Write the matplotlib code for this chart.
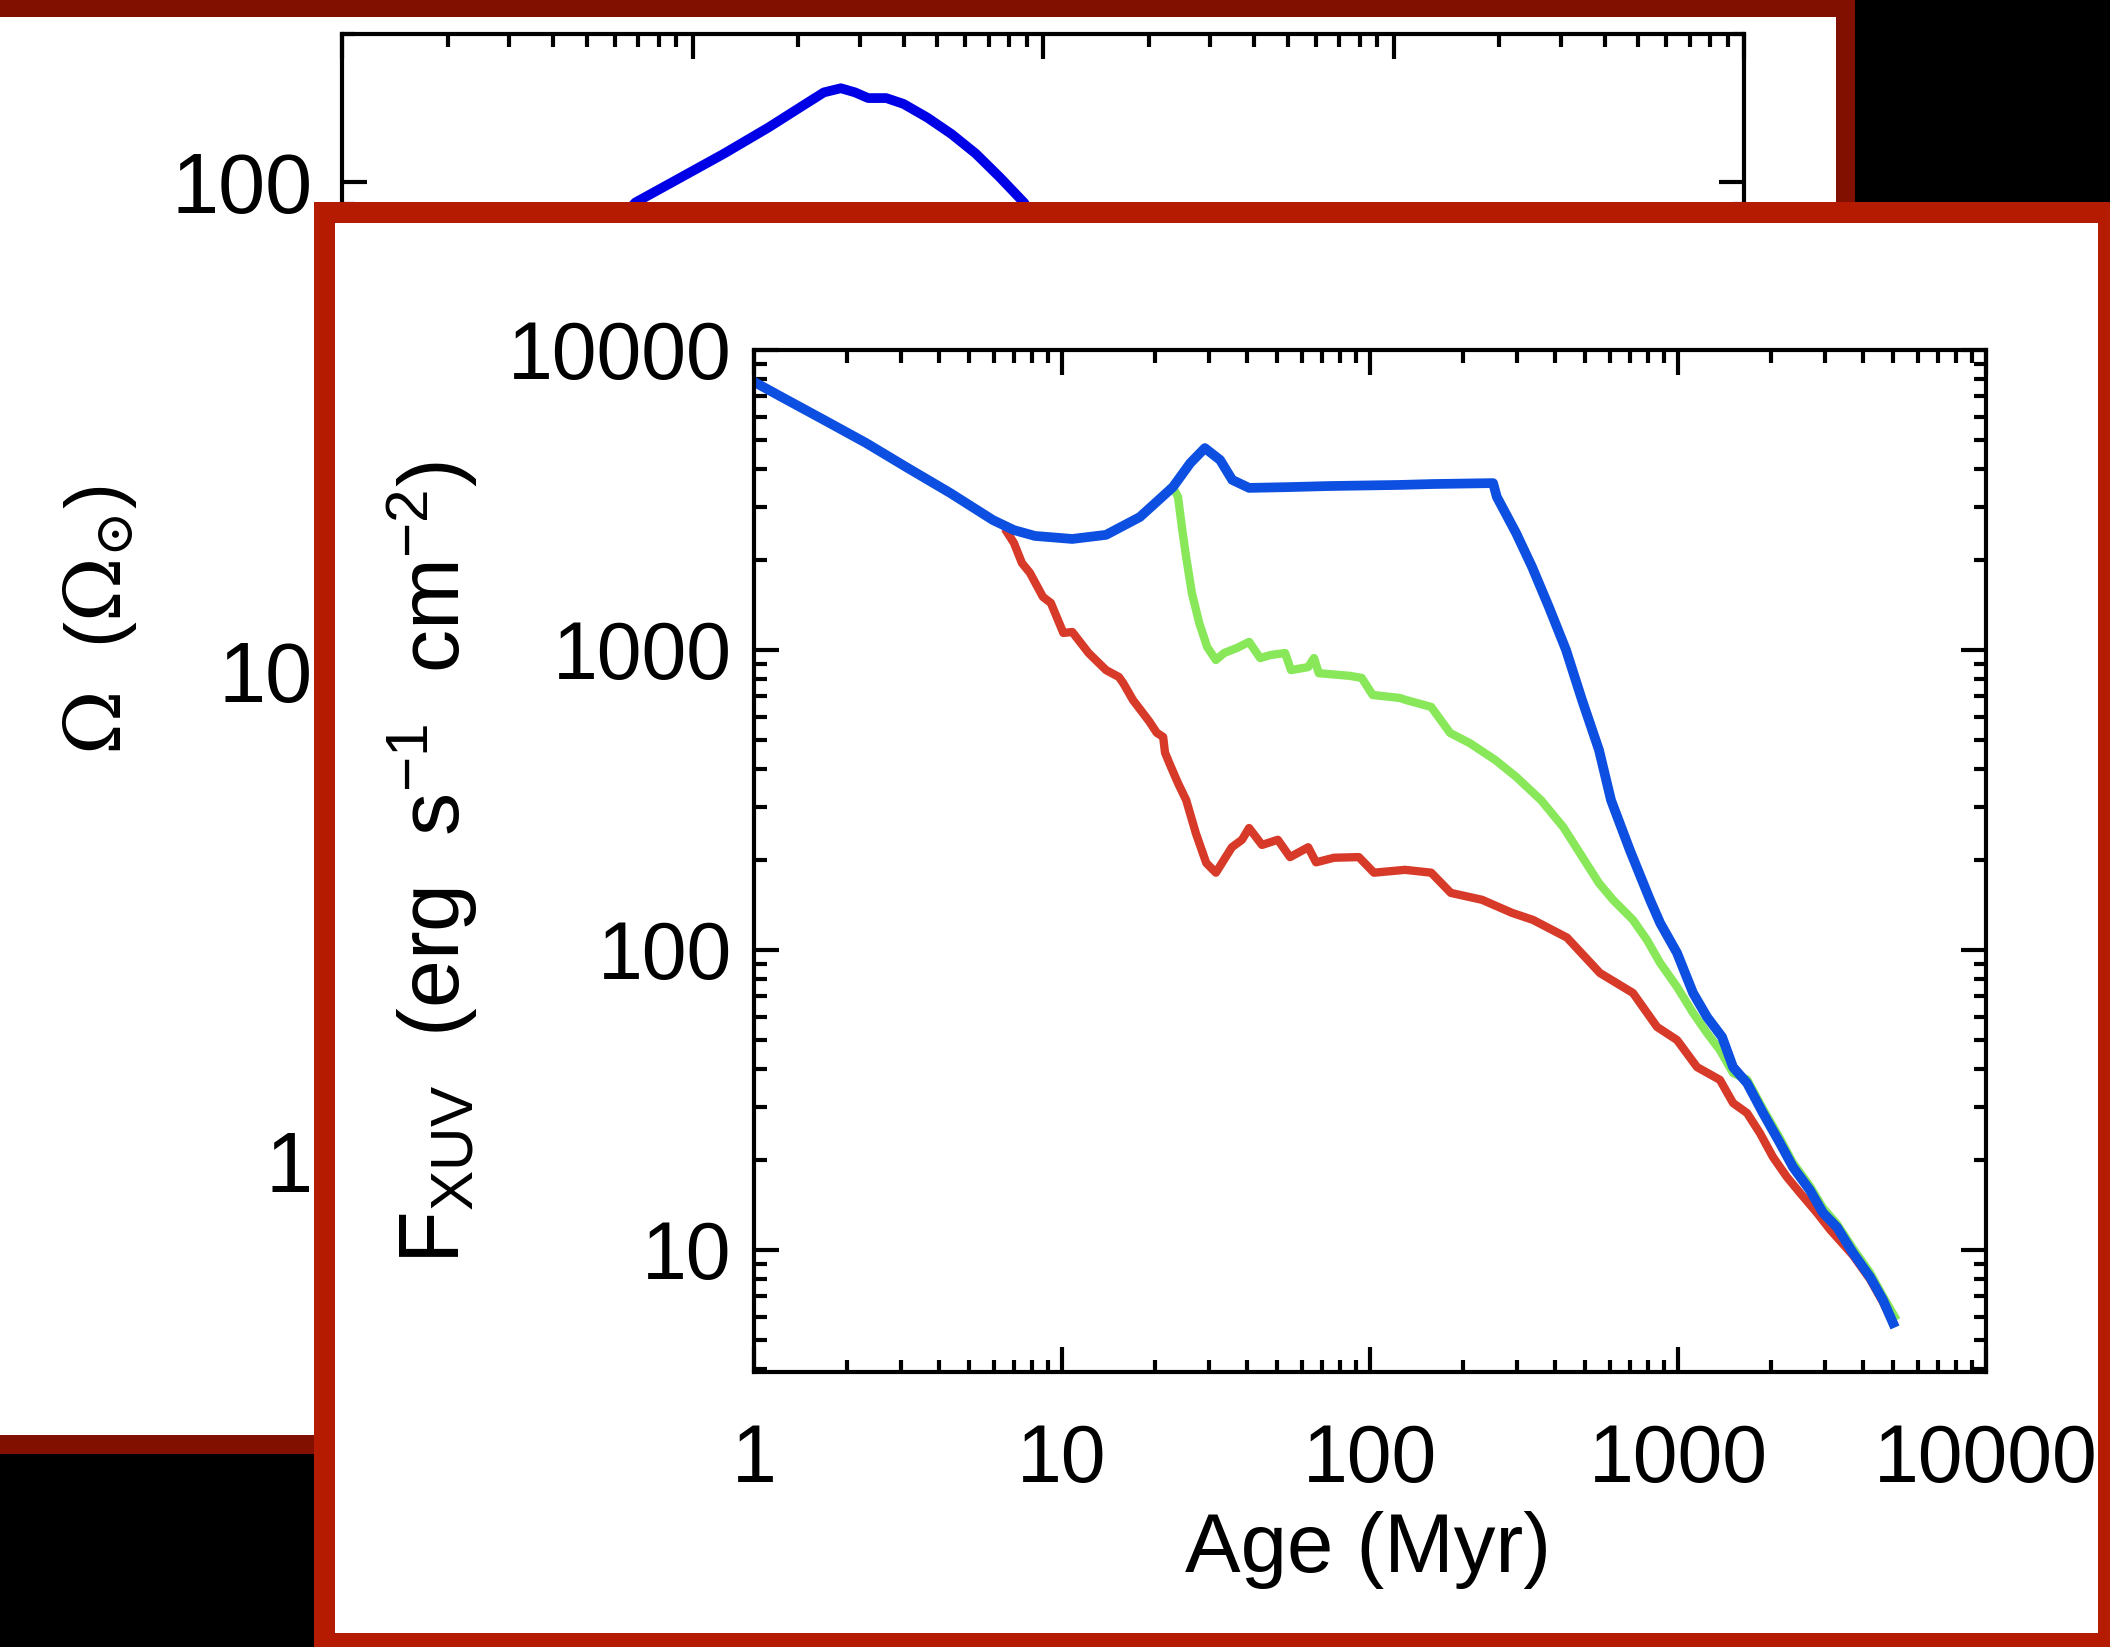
import matplotlib
matplotlib.use("Agg")
import matplotlib.pyplot as plt
from matplotlib.patches import Rectangle
from matplotlib.ticker import FixedLocator, FixedFormatter, LogLocator, NullFormatter

plt.rcParams['font.family'] = ['Liberation Sans', 'DejaVu Sans']
plt.rcParams['mathtext.fontset'] = 'custom'
plt.rcParams['mathtext.rm'] = 'Liberation Sans'
plt.rcParams['mathtext.it'] = 'Liberation Sans:italic'
plt.rcParams['mathtext.bf'] = 'Liberation Sans:bold'

# ---------------- data ----------------
# back panel: spin rate Omega (Omega_sun) vs age (Myr)
back_age = [5.0, 6.87, 8.94, 12.3, 16.5, 20.7, 23.7, 26.5, 29.1, 31.7, 35.7, 40.0,
            46.8, 54.8, 64.3, 75.3, 88.2, 105]
back_omega = [70, 90.6, 100.5, 114, 129, 143, 152, 155, 152, 148, 148, 144,
              135, 125, 114, 102, 90.6, 75]
back_yticks = [1, 10, 100]
back_yticklabels = ['1', '10', '100']

# front panel: F_XUV vs age (Myr)
blue_age = [1.0, 1.23, 1.69, 2.31, 3.16, 4.33, 5.97, 6.98, 8.17, 10.8, 13.9, 17.9,
            22.9, 26.1, 29.1, 32.6, 35.7, 40.5, 53.8, 73.6, 125, 160, 251, 258,
            298, 336, 381, 433, 488, 554, 606, 698, 811, 875, 993, 1119, 1242,
            1390, 1509, 1676, 1888, 2144, 2362, 2683, 2956, 3283, 3700, 4200,
            4630, 4990]
blue_flux = [7830, 6970, 5840, 4900, 4040, 3340, 2710, 2510, 2400, 2345, 2420, 2775,
             3490, 4200, 4710, 4300, 3690, 3470, 3490, 3520, 3550, 3575, 3600, 3240,
             2455, 1890, 1390, 1000, 681, 464, 316, 215, 147, 123, 97.7, 71.9, 59.8,
             51.3, 40.7, 36.0, 28.6, 22.7, 18.9, 15.8, 13.3, 11.9, 9.77, 8.13,
             6.81, 5.71]

green_age = [22.9, 23.8, 24.5, 25.3, 26.4, 27.9, 29.6, 31.6, 33.6, 37.0, 40.5, 44.0,
             47.5, 53.0, 55.4, 63.0, 65.8, 68.2, 86, 94, 102, 125, 131, 158, 182,
             211, 255, 298, 359, 424, 554, 615, 714, 793, 875, 993, 1119, 1242,
             1368, 1509, 1676, 1888, 2144, 2362, 2683, 2956, 3283, 3700, 4200,
             4630, 5050]
green_flux = [3490, 3240, 2570, 2040, 1550, 1230, 1023, 926, 977, 1016, 1064, 940,
              962, 977, 857, 877, 940, 837, 820, 807, 708, 692, 681, 646, 529,
              489, 430, 378, 316, 257, 167, 147, 126, 108, 90.5, 75.3, 61.7, 52.9,
              46.4, 38.9, 37.0, 29.5, 23.5, 19.5, 16.3, 13.8, 12.2, 10.1, 8.4,
              7.0, 6.0]

red_age = [6.63, 6.98, 7.41, 7.87, 8.67, 9.2, 10.1, 10.8, 12.2, 13.9, 15.3, 15.8,
           17.0, 19.2, 20.3, 21.3, 21.6, 22.3, 23.8, 25.3, 27.2, 29.4, 31.6, 35.6,
           38.4, 40.5, 44.6, 50.2, 55.0, 63.0, 66.8, 76.4, 92, 103, 130, 158, 183,
           231, 289, 338, 436, 558, 714, 855, 993, 1153, 1368, 1509, 1676, 1846,
           2034, 2258, 2490, 2826, 3116, 3700, 4200, 4630, 4990]
red_flux = [2470, 2275, 1950, 1807, 1503, 1435, 1140, 1148, 977, 857, 813, 776,
            681, 578, 530, 513, 455, 420, 360, 316, 245, 195, 181, 220,
            233, 255, 224, 233, 204, 220, 196, 203, 204, 181, 185, 181, 155,
            147, 133, 126, 110, 83.8, 71.9, 55.4, 50.1, 40.7, 36.9, 30.9, 28.6, 24.5,
            20.4, 17.5, 15.5, 13.3, 11.7, 9.6, 8.0, 6.7, 5.7]

front_xticks = [1, 10, 100, 1000, 10000]
front_xticklabels = ['1', '10', '100', '1000', '10000']
front_yticks = [10, 100, 1000, 10000]
front_yticklabels = ['10', '100', '1000', '10000']

# ---------------- figure ----------------
W, H = 2110, 1647
fig = plt.figure(figsize=(W / 100, H / 100), dpi=100, facecolor='black')


def rect(x0, y0, x1, y1, color, z):
    fig.add_artist(Rectangle((x0 / W, 1 - y1 / H), (x1 - x0) / W, (y1 - y0) / H,
                             transform=fig.transFigure, facecolor=color,
                             edgecolor='none', zorder=z))


def ax_box(x0, y0, x1, y1):
    return [x0 / W, 1 - y1 / H, (x1 - x0) / W, (y1 - y0) / H]


def style_axes(ax, lw=3.0):
    for s in ax.spines.values():
        s.set_linewidth(lw)
        s.set_color('black')
    ax.tick_params(which='both', direction='in', top=True, right=True,
                   color='black', width=3.0)
    ax.tick_params(which='major', length=18)
    ax.tick_params(which='minor', length=9)


# back panel frame
rect(0, 0, 1855, 1454, '#821000', -3)
rect(0, 17, 1836, 1435, 'white', -2)

axb = fig.add_axes(ax_box(342, 34, 1744, 1309))
axb.set_zorder(0)
axb.set_facecolor('white')
axb.set_xscale('log')
axb.set_yscale('log')
axb.set_xlim(1, 1e4)
axb.set_ylim(0.5, 200)
axb.plot(back_age, back_omega, color='#0000E6', lw=7, solid_capstyle='round',
         solid_joinstyle='round')
style_axes(axb)
axb.yaxis.set_major_locator(FixedLocator(back_yticks))
axb.yaxis.set_major_formatter(FixedFormatter(back_yticklabels))
axb.yaxis.set_minor_locator(LogLocator(base=10, subs=range(2, 10)))
axb.yaxis.set_minor_formatter(NullFormatter())
axb.xaxis.set_minor_locator(LogLocator(base=10, subs=range(2, 10)))
axb.tick_params(axis='x', labelbottom=False)
axb.tick_params(axis='y', labelsize=61, pad=21)

fig.text(100 / W, 1 - 620 / H, r'$\Omega$  ($\Omega_{\odot}$)', rotation=90,
         ha='center', va='center', fontsize=56, math_fontfamily='dejavuserif',
         zorder=-1)

# front panel frame
rect(314, 202, 2120, 1660, '#B41B00', 1)
rect(335, 223, 2098, 1633, 'white', 2)

axf = fig.add_axes(ax_box(754, 350, 1986, 1372))
axf.set_zorder(3)
axf.set_facecolor('white')
axf.set_xscale('log')
axf.set_yscale('log')
axf.set_xlim(1, 1e4)
axf.set_ylim(3.92, 1e4)
axf.plot(red_age, red_flux, color='#D73A28', lw=6, solid_joinstyle='round')
axf.plot(green_age, green_flux, color='#88E85A', lw=6, solid_joinstyle='round')
axf.plot(blue_age, blue_flux, color='#0D4FE0', lw=7, solid_joinstyle='round')
style_axes(axf)
axf.xaxis.set_major_locator(FixedLocator(front_xticks))
axf.xaxis.set_major_formatter(FixedFormatter(front_xticklabels))
axf.yaxis.set_major_locator(FixedLocator(front_yticks))
axf.yaxis.set_major_formatter(FixedFormatter(front_yticklabels))
for a in (axf.xaxis, axf.yaxis):
    a.set_minor_locator(LogLocator(base=10, subs=range(2, 10)))
    a.set_minor_formatter(NullFormatter())
axf.tick_params(axis='x', labelsize=58, pad=37)
axf.tick_params(axis='y', labelsize=58, pad=16)

fig.text(1368 / W, 1 - 1550 / H, 'Age (Myr)', ha='center', va='center',
         fontsize=60, zorder=4)
fig.text(432 / W, 1 - 862 / H,
         r'F$_{\mathrm{XUV}}$  (erg  s$^{\mathrm{-1}}$  cm$^{\mathrm{-2}}$)',
         rotation=90, ha='center', va='center', fontsize=62, zorder=4)

fig.savefig('out.png', dpi=100, facecolor='black')
